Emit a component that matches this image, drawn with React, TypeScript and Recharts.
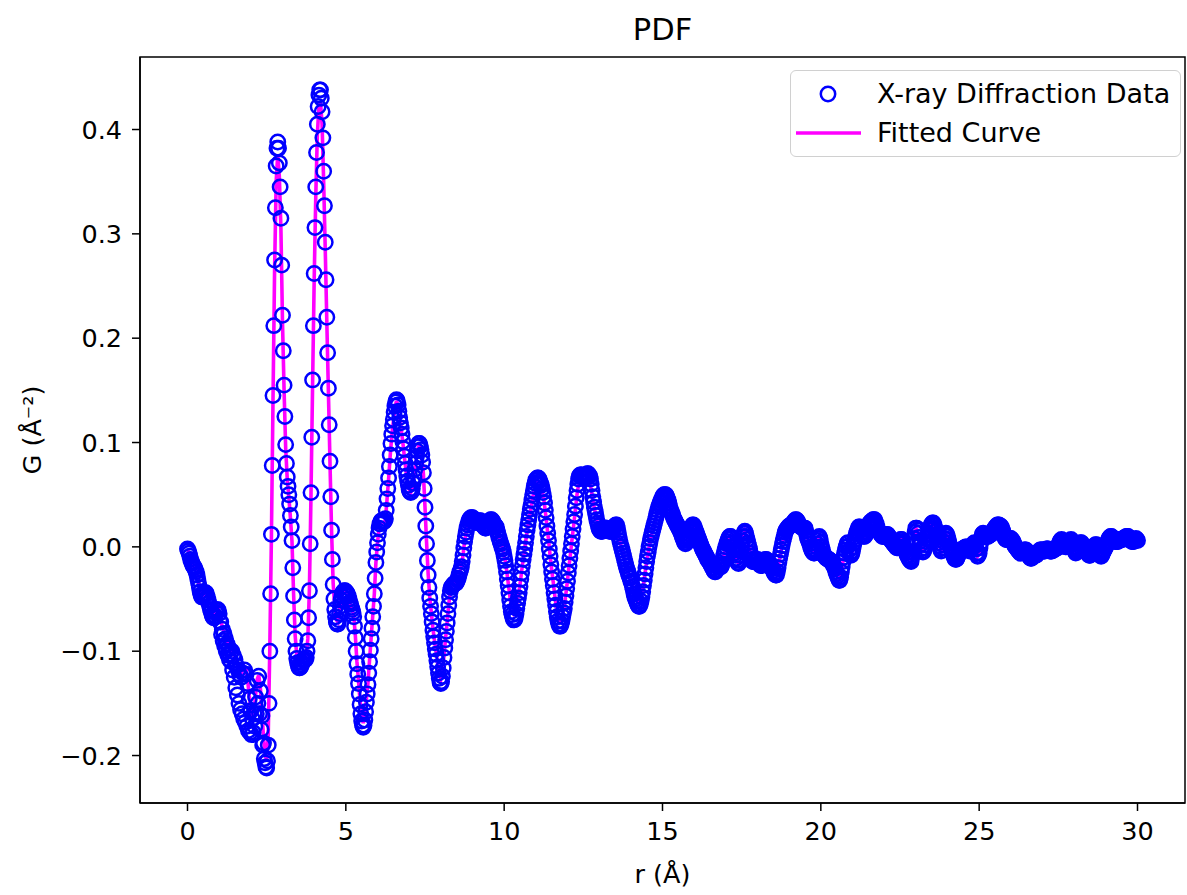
import React from 'react';
import { ComposedChart, Scatter, Line, XAxis, YAxis, ReferenceArea, Legend } from 'recharts';

// sampling grids of r (Å)
const R_START = 0;
const OBS_STEP = 0.025;
const FIT_STEP = 0.05;

// Measured G(r) (Å^-2), one row per 1 Å (40 samples, step 0.025 Å)
const OBS_G = [
  -0.002,-0.004,-0.006,-0.009,-0.012,-0.014,-0.016,-0.018,-0.019,-0.020,-0.022,-0.024,-0.027,-0.031,-0.035,-0.039,-0.043,-0.046,-0.048,-0.048,-0.047,-0.045,-0.044,-0.044,-0.045,-0.048,-0.051,-0.054,-0.057,-0.060,-0.062,-0.065,-0.067,-0.068,-0.068,-0.066,-0.063,-0.061,-0.060,-0.061,
  -0.064,-0.072,-0.072,-0.084,-0.079,-0.090,-0.083,-0.095,-0.088,-0.100,-0.093,-0.104,-0.097,-0.108,-0.103,-0.110,-0.100,-0.118,-0.104,-0.125,-0.108,-0.135,-0.114,-0.142,-0.118,-0.150,-0.123,-0.156,-0.125,-0.160,-0.121,-0.165,-0.118,-0.168,-0.122,-0.172,-0.131,-0.176,-0.146,-0.178,
  -0.157,-0.180,-0.165,-0.178,-0.160,-0.172,-0.144,-0.160,-0.128,-0.150,-0.124,-0.160,-0.138,-0.175,-0.162,-0.190,-0.188,-0.203,-0.207,-0.211,-0.212,-0.205,-0.190,-0.150,-0.100,-0.045,0.012,0.078,0.145,0.212,0.275,0.325,0.365,0.382,0.388,0.382,0.368,0.345,0.315,0.270,
  0.222,0.188,0.155,0.125,0.098,0.080,0.067,0.058,0.050,0.041,0.030,0.019,0.006,-0.020,-0.047,-0.070,-0.088,-0.100,-0.107,-0.111,-0.114,-0.116,-0.116,-0.115,-0.113,-0.111,-0.109,-0.108,-0.108,-0.108,-0.106,-0.100,-0.090,-0.068,-0.042,0.003,0.052,0.105,0.160,0.212,
  0.262,0.306,0.345,0.378,0.405,0.422,0.433,0.438,0.438,0.430,0.417,0.392,0.360,0.327,0.292,0.256,0.220,0.186,0.152,0.117,0.082,0.048,0.016,-0.012,-0.036,-0.050,-0.060,-0.067,-0.072,-0.074,-0.074,-0.070,-0.064,-0.057,-0.051,-0.047,-0.044,-0.043,-0.042,-0.042,
  -0.043,-0.044,-0.045,-0.047,-0.050,-0.053,-0.055,-0.058,-0.060,-0.063,-0.067,-0.076,-0.087,-0.100,-0.112,-0.122,-0.131,-0.141,-0.151,-0.160,-0.167,-0.171,-0.173,-0.171,-0.166,-0.158,-0.149,-0.141,-0.132,-0.121,-0.110,-0.099,-0.088,-0.078,-0.067,-0.057,-0.045,-0.030,-0.015,-0.005,
  0.004,0.012,0.018,0.022,0.024,0.025,0.024,0.024,0.024,0.025,0.027,0.035,0.046,0.056,0.066,0.077,0.088,0.099,0.108,0.116,0.122,0.129,0.135,0.139,0.141,0.140,0.136,0.130,0.124,0.119,0.114,0.108,0.101,0.094,0.087,0.080,0.074,0.068,0.063,0.059,
  0.055,0.053,0.052,0.053,0.056,0.061,0.067,0.074,0.080,0.086,0.092,0.096,0.099,0.099,0.097,0.093,0.088,0.081,0.071,0.056,0.038,0.020,0.003,-0.013,-0.027,-0.039,-0.049,-0.057,-0.064,-0.072,-0.080,-0.086,-0.092,-0.098,-0.103,-0.109,-0.115,-0.121,-0.126,-0.130,
  -0.131,-0.129,-0.124,-0.116,-0.106,-0.097,-0.089,-0.081,-0.073,-0.064,-0.056,-0.048,-0.042,-0.039,-0.038,-0.037,-0.036,-0.035,-0.035,-0.035,-0.034,-0.032,-0.030,-0.027,-0.024,-0.022,-0.019,-0.014,-0.008,-0.001,0.005,0.010,0.014,0.018,0.021,0.024,0.026,0.027,0.028,0.028,
  0.028,0.027,0.026,0.025,0.025,0.024,0.023,0.023,0.024,0.025,0.025,0.024,0.023,0.021,0.020,0.019,0.018,0.018,0.019,0.020,0.022,0.024,0.025,0.026,0.026,0.025,0.024,0.022,0.021,0.020,0.019,0.016,0.013,0.010,0.008,0.005,0.003,0.000,-0.002,-0.005,
  -0.009,-0.013,-0.018,-0.024,-0.031,-0.037,-0.044,-0.051,-0.057,-0.062,-0.065,-0.068,-0.070,-0.070,-0.068,-0.064,-0.059,-0.054,-0.049,-0.044,-0.038,-0.031,-0.025,-0.018,-0.012,-0.007,-0.002,0.004,0.010,0.016,0.021,0.026,0.031,0.036,0.040,0.045,0.050,0.054,0.058,0.061,
  0.064,0.065,0.066,0.066,0.065,0.063,0.061,0.059,0.056,0.052,0.048,0.042,0.035,0.028,0.020,0.013,0.006,-0.002,-0.009,-0.017,-0.024,-0.031,-0.037,-0.044,-0.050,-0.056,-0.062,-0.067,-0.071,-0.074,-0.076,-0.076,-0.074,-0.071,-0.067,-0.063,-0.059,-0.053,-0.047,-0.040,
  -0.033,-0.025,-0.018,-0.011,-0.004,0.003,0.010,0.017,0.024,0.031,0.039,0.047,0.054,0.060,0.065,0.068,0.069,0.069,0.069,0.068,0.068,0.068,0.068,0.068,0.069,0.070,0.070,0.069,0.068,0.065,0.060,0.054,0.048,0.043,0.038,0.034,0.030,0.026,0.023,0.020,
  0.017,0.016,0.015,0.015,0.015,0.016,0.017,0.018,0.018,0.018,0.018,0.017,0.016,0.015,0.015,0.015,0.016,0.017,0.018,0.019,0.020,0.021,0.021,0.018,0.014,0.010,0.006,0.003,0.000,-0.003,-0.006,-0.009,-0.012,-0.015,-0.018,-0.021,-0.023,-0.026,-0.028,-0.030,
  -0.033,-0.035,-0.038,-0.041,-0.045,-0.048,-0.050,-0.052,-0.054,-0.056,-0.057,-0.057,-0.055,-0.052,-0.048,-0.043,-0.037,-0.032,-0.026,-0.020,-0.014,-0.009,-0.005,0.000,0.004,0.008,0.011,0.014,0.017,0.020,0.023,0.026,0.029,0.032,0.035,0.038,0.040,0.042,0.044,0.046,
  0.048,0.049,0.050,0.050,0.050,0.049,0.047,0.045,0.042,0.039,0.036,0.034,0.032,0.030,0.028,0.026,0.025,0.023,0.022,0.020,0.019,0.017,0.016,0.014,0.012,0.010,0.008,0.006,0.004,0.003,0.004,0.006,0.008,0.010,0.012,0.015,0.017,0.019,0.021,0.021,
  0.019,0.017,0.015,0.013,0.011,0.009,0.007,0.005,0.003,0.001,-0.001,-0.003,-0.004,-0.006,-0.007,-0.009,-0.010,-0.012,-0.013,-0.014,-0.015,-0.017,-0.018,-0.020,-0.021,-0.023,-0.024,-0.024,-0.022,-0.019,-0.017,-0.017,-0.018,-0.019,-0.019,-0.017,-0.013,-0.009,-0.006,-0.003,
  0.000,0.003,0.005,0.007,0.009,0.010,0.010,0.008,0.004,0.000,-0.003,-0.006,-0.008,-0.011,-0.013,-0.015,-0.016,-0.013,-0.008,-0.004,0.001,0.006,0.010,0.013,0.015,0.013,0.010,0.007,0.004,0.001,-0.002,-0.006,-0.009,-0.012,-0.014,-0.014,-0.014,-0.014,-0.013,-0.012,
  -0.012,-0.013,-0.015,-0.017,-0.018,-0.018,-0.017,-0.015,-0.014,-0.013,-0.012,-0.012,-0.013,-0.014,-0.016,-0.018,-0.019,-0.019,-0.020,-0.021,-0.023,-0.025,-0.026,-0.027,-0.027,-0.024,-0.020,-0.015,-0.011,-0.007,-0.003,0.001,0.005,0.008,0.011,0.014,0.016,0.017,0.018,0.019,
  0.020,0.020,0.021,0.021,0.022,0.023,0.024,0.025,0.026,0.026,0.025,0.024,0.022,0.021,0.020,0.019,0.019,0.018,0.018,0.018,0.018,0.015,0.012,0.009,0.007,0.005,0.003,0.000,-0.002,-0.004,-0.005,-0.006,-0.006,-0.003,0.000,0.003,0.006,0.008,0.010,0.008,
  0.004,0.000,-0.003,-0.006,-0.008,-0.009,-0.010,-0.011,-0.011,-0.012,-0.012,-0.013,-0.013,-0.014,-0.015,-0.016,-0.018,-0.019,-0.021,-0.024,-0.026,-0.028,-0.030,-0.032,-0.032,-0.029,-0.024,-0.019,-0.014,-0.010,-0.006,-0.003,0.000,0.003,0.004,0.001,-0.003,-0.006,-0.008,-0.007,
  -0.004,0.000,0.004,0.007,0.010,0.013,0.015,0.017,0.019,0.019,0.018,0.016,0.014,0.012,0.010,0.010,0.011,0.014,0.017,0.019,0.021,0.022,0.023,0.024,0.024,0.025,0.026,0.026,0.026,0.024,0.022,0.019,0.016,0.015,0.014,0.013,0.012,0.011,0.010,0.010,
  0.010,0.010,0.011,0.012,0.012,0.011,0.010,0.008,0.007,0.006,0.005,0.004,0.003,0.002,0.001,0.000,-0.001,-0.001,0.000,0.003,0.005,0.007,0.007,0.005,0.003,0.000,-0.002,-0.004,-0.006,-0.008,-0.009,-0.011,-0.012,-0.013,-0.014,-0.010,-0.005,0.001,0.008,0.014,
  0.018,0.018,0.016,0.013,0.009,0.005,0.002,-0.002,-0.004,-0.005,-0.004,-0.001,0.002,0.005,0.008,0.011,0.013,0.016,0.018,0.020,0.022,0.023,0.023,0.021,0.018,0.015,0.012,0.010,0.007,0.004,0.001,-0.002,-0.004,-0.001,0.002,0.005,0.008,0.011,0.013,0.012,
  0.010,0.007,0.004,0.001,-0.001,-0.003,-0.005,-0.007,-0.009,-0.011,-0.012,-0.012,-0.011,-0.009,-0.007,-0.005,-0.004,-0.003,-0.003,-0.002,-0.002,-0.001,-0.001,0.000,0.000,-0.001,-0.002,-0.003,-0.004,-0.003,-0.001,0.001,0.002,0.003,0.004,0.001,-0.002,-0.006,-0.009,-0.008,
  -0.006,-0.001,0.004,0.009,0.012,0.013,0.012,0.011,0.011,0.010,0.010,0.010,0.011,0.011,0.012,0.012,0.013,0.014,0.015,0.017,0.018,0.019,0.020,0.021,0.021,0.021,0.020,0.020,0.019,0.017,0.015,0.012,0.010,0.008,0.007,0.007,0.007,0.007,0.008,0.008,
  0.008,0.007,0.006,0.005,0.003,0.001,0.000,-0.001,-0.002,-0.003,-0.004,-0.005,-0.006,-0.006,-0.005,-0.004,-0.004,-0.003,-0.003,-0.003,-0.004,-0.005,-0.007,-0.009,-0.010,-0.011,-0.011,-0.010,-0.009,-0.008,-0.008,-0.008,-0.008,-0.007,-0.006,-0.005,-0.004,-0.003,-0.003,-0.003,
  -0.003,-0.004,-0.004,-0.004,-0.003,-0.002,-0.002,-0.002,-0.003,-0.004,-0.004,-0.004,-0.004,-0.003,-0.003,-0.002,-0.002,-0.001,-0.001,-0.001,0.000,0.003,0.005,0.006,0.007,0.006,0.004,0.002,0.001,0.000,0.000,0.001,0.002,0.003,0.005,0.006,0.007,0.005,0.003,0.000,
  -0.002,-0.004,-0.006,-0.005,-0.003,-0.001,0.001,0.003,0.004,0.004,0.003,0.001,0.000,-0.002,-0.003,-0.004,-0.005,-0.006,-0.007,-0.008,-0.008,-0.007,-0.006,-0.004,-0.002,0.000,0.001,0.002,0.002,0.000,-0.002,-0.004,-0.006,-0.008,-0.009,-0.008,-0.006,-0.004,-0.003,-0.001,
  0.000,0.002,0.004,0.006,0.008,0.009,0.010,0.010,0.009,0.008,0.007,0.006,0.005,0.005,0.005,0.005,0.006,0.006,0.007,0.007,0.007,0.007,0.008,0.008,0.009,0.009,0.010,0.010,0.010,0.009,0.008,0.007,0.006,0.005,0.005,0.005,0.006,0.007,0.008,0.007,
  0.006,
];

// Fitted G(r) (Å^-2), one row per 1 Å (20 samples, step 0.05 Å)
const FIT_G = [
  -0.002,-0.006,-0.012,-0.016,-0.019,-0.021,-0.026,-0.034,-0.042,-0.047,-0.046,-0.043,-0.044,-0.050,-0.055,-0.060,-0.065,-0.066,-0.061,-0.058,
  -0.062,-0.070,-0.077,-0.081,-0.086,-0.091,-0.095,-0.100,-0.097,-0.098,-0.105,-0.110,-0.114,-0.119,-0.121,-0.118,-0.115,-0.117,-0.128,-0.143,
  -0.155,-0.162,-0.158,-0.142,-0.127,-0.123,-0.135,-0.158,-0.182,-0.200,-0.204,-0.180,-0.095,0.010,0.140,0.265,0.350,0.376,0.355,0.305,
  0.215,0.150,0.095,0.065,0.048,0.028,0.005,-0.045,-0.085,-0.104,-0.110,-0.112,-0.110,-0.107,-0.107,-0.104,-0.088,-0.040,0.050,0.155,
  0.255,0.335,0.395,0.422,0.426,0.405,0.350,0.285,0.215,0.148,0.080,0.015,-0.035,-0.058,-0.070,-0.072,-0.062,-0.050,-0.044,-0.042,
  -0.043,-0.045,-0.050,-0.055,-0.060,-0.066,-0.085,-0.110,-0.128,-0.148,-0.163,-0.169,-0.162,-0.146,-0.130,-0.108,-0.087,-0.066,-0.045,-0.015,
  0.004,0.018,0.023,0.023,0.023,0.026,0.045,0.065,0.087,0.106,0.120,0.133,0.140,0.134,0.123,0.113,0.100,0.086,0.073,0.062,
  0.055,0.052,0.056,0.066,0.078,0.090,0.097,0.095,0.086,0.070,0.038,0.004,-0.026,-0.048,-0.063,-0.078,-0.090,-0.100,-0.112,-0.122,
  -0.127,-0.121,-0.104,-0.088,-0.072,-0.055,-0.042,-0.038,-0.036,-0.035,-0.034,-0.030,-0.024,-0.019,-0.008,0.005,0.014,0.021,0.026,0.028,
  0.028,0.026,0.025,0.023,0.024,0.025,0.023,0.020,0.018,0.019,0.022,0.025,0.026,0.024,0.021,0.019,0.013,0.008,0.003,-0.002,
  -0.008,-0.016,-0.028,-0.040,-0.052,-0.060,-0.064,-0.062,-0.054,-0.046,-0.036,-0.024,-0.012,-0.002,0.010,0.020,0.029,0.038,0.047,0.055,
  0.061,0.063,0.062,0.058,0.054,0.046,0.034,0.020,0.007,-0.008,-0.022,-0.034,-0.047,-0.058,-0.067,-0.072,-0.070,-0.064,-0.057,-0.045,
  -0.032,-0.018,-0.005,0.009,0.022,0.036,0.050,0.060,0.063,0.062,0.061,0.061,0.062,0.063,0.062,0.055,0.045,0.037,0.029,0.022,
  0.017,0.015,0.015,0.017,0.018,0.018,0.016,0.015,0.016,0.018,0.020,0.021,0.014,0.006,0.000,-0.006,-0.012,-0.018,-0.023,-0.028,
  -0.032,-0.037,-0.043,-0.048,-0.051,-0.053,-0.052,-0.046,-0.036,-0.025,-0.014,-0.005,0.004,0.011,0.017,0.022,0.028,0.033,0.038,0.042,
  0.046,0.048,0.048,0.045,0.041,0.036,0.032,0.028,0.025,0.022,0.019,0.016,0.012,0.008,0.004,0.004,0.008,0.012,0.017,0.021,
  0.019,0.015,0.011,0.007,0.003,-0.001,-0.004,-0.007,-0.010,-0.013,-0.015,-0.018,-0.021,-0.024,-0.022,-0.017,-0.018,-0.019,-0.013,-0.006,
  0.000,0.005,0.009,0.010,0.004,-0.003,-0.008,-0.013,-0.016,-0.008,0.001,0.010,0.015,0.010,0.004,-0.002,-0.009,-0.014,-0.014,-0.013,
  -0.012,-0.015,-0.018,-0.017,-0.014,-0.012,-0.013,-0.016,-0.019,-0.020,-0.023,-0.026,-0.027,-0.020,-0.011,-0.003,0.005,0.011,0.016,0.018,
  0.020,0.021,0.022,0.024,0.026,0.025,0.022,0.020,0.019,0.018,0.018,0.012,0.007,0.003,-0.002,-0.005,-0.006,0.000,0.006,0.010,
  0.004,-0.003,-0.008,-0.010,-0.011,-0.012,-0.013,-0.015,-0.018,-0.021,-0.026,-0.030,-0.032,-0.024,-0.014,-0.006,0.000,0.004,-0.003,-0.008,
  -0.004,0.004,0.010,0.015,0.019,0.018,0.014,0.010,0.011,0.017,0.021,0.023,0.024,0.026,0.026,0.022,0.016,0.014,0.012,0.010,
  0.010,0.011,0.012,0.010,0.007,0.005,0.003,0.001,-0.001,0.000,0.005,0.007,0.003,-0.002,-0.006,-0.009,-0.012,-0.014,-0.005,0.008,
  0.018,0.016,0.009,0.002,-0.004,-0.004,0.002,0.008,0.013,0.018,0.022,0.023,0.018,0.012,0.007,0.001,-0.004,0.002,0.008,0.013,
  0.010,0.004,-0.001,-0.005,-0.009,-0.012,-0.011,-0.007,-0.004,-0.003,-0.002,-0.001,0.000,-0.002,-0.004,-0.001,0.002,0.004,-0.002,-0.009,
  -0.006,0.004,0.012,0.012,0.011,0.010,0.011,0.012,0.013,0.015,0.018,0.020,0.021,0.020,0.019,0.015,0.010,0.007,0.007,0.008,
  0.008,0.006,0.003,0.000,-0.002,-0.004,-0.006,-0.005,-0.004,-0.003,-0.004,-0.007,-0.010,-0.011,-0.009,-0.008,-0.008,-0.006,-0.004,-0.003,
  -0.003,-0.004,-0.003,-0.002,-0.003,-0.004,-0.004,-0.003,-0.002,-0.001,0.000,0.005,0.007,0.004,0.001,0.000,0.002,0.005,0.007,0.003,
  -0.002,-0.006,-0.003,0.001,0.004,0.003,0.000,-0.003,-0.005,-0.007,-0.008,-0.006,-0.002,0.001,0.002,-0.002,-0.006,-0.009,-0.006,-0.003,
  0.000,0.004,0.008,0.010,0.009,0.007,0.005,0.005,0.006,0.007,0.007,0.008,0.009,0.010,0.010,0.008,0.006,0.005,0.006,0.008,
  0.006,
];

const X_TICKS = [0, 5, 10, 15, 20, 25, 30];
const Y_TICKS = [-0.2, -0.1, 0.0, 0.1, 0.2, 0.3, 0.4];
const X_DOMAIN: [number, number] = [-1.5, 31.5];
const Y_DOMAIN: [number, number] = [-0.2455, 0.4695];

const TITLE = 'PDF';
const X_LABEL = 'r (Å)';
const Y_LABEL = 'G (Å⁻²)';
const OBS_NAME = 'X-ray Diffraction Data';
const FIT_NAME = 'Fitted Curve';

const OBS_COLOR = '#0000ff';
const FIT_COLOR = '#ff00ff';
const FONT = '"DejaVu Sans", sans-serif';
const FS = 25.5;
const LEGEND_FS = 27;
const MARKER_R = 7.2;
const MARKER_W = 2.5;

const FIT_EVERY = Math.round(FIT_STEP / OBS_STEP);
const data = OBS_G.map((g, i) => ({
  r: Number((R_START + i * OBS_STEP).toFixed(3)),
  obs: g,
  fit: i % FIT_EVERY === 0 ? FIT_G[i / FIT_EVERY] : undefined,
}));

const fmtY = (v: number) => v.toFixed(1).replace('-', '\u2212');

const OpenCircle = (props: any) => {
  const { cx, cy } = props;
  if (cx == null || cy == null) return null;
  return <circle cx={cx} cy={cy} r={MARKER_R} fill="none" stroke={OBS_COLOR} strokeWidth={MARKER_W} />;
};

const LegendBox = () => (
  <div
    style={{
      width: 391,
      height: 87,
      boxSizing: 'border-box',
      border: '1.5px solid #d0d0d0',
      borderRadius: 6,
      background: 'rgba(255,255,255,0.85)',
      position: 'relative',
      fontFamily: FONT,
      fontSize: LEGEND_FS,
      color: '#000',
    }}
  >
    <svg width={80} height={87} style={{ position: 'absolute', left: 0, top: 0 }}>
      <circle cx={37} cy={23} r={MARKER_R} fill="none" stroke={OBS_COLOR} strokeWidth={MARKER_W} />
      <line x1={5} y1={62} x2={70} y2={62} stroke={FIT_COLOR} strokeWidth={3.6} />
    </svg>
    <div style={{ position: 'absolute', left: 86, top: 23 - 16, lineHeight: '32px', whiteSpace: 'nowrap' }}>{OBS_NAME}</div>
    <div style={{ position: 'absolute', left: 86, top: 62 - 16, lineHeight: '32px', whiteSpace: 'nowrap' }}>{FIT_NAME}</div>
  </div>
);

export default function App() {
  return (
    <div style={{ position: 'absolute', left: 0, top: 0, width: 1187, height: 895, background: '#fff', fontFamily: FONT }}>
      <div
        style={{
          position: 'absolute',
          left: 140,
          width: 1045,
          top: 12,
          lineHeight: '36px',
          textAlign: 'center',
          fontSize: 30.5,
          color: '#000',
        }}
      >
        {TITLE}
      </div>
      <ComposedChart
        width={1187}
        height={895}
        data={data}
        margin={{ top: 57, right: 2, bottom: 42, left: 60 }}
        style={{ position: 'absolute', left: 0, top: 0 }}
      >
        <XAxis
          type="number"
          dataKey="r"
          domain={X_DOMAIN}
          ticks={X_TICKS}
          allowDataOverflow
          height={50}
          tickSize={8}
          tickMargin={11}
          tick={{ fill: '#000', fontSize: FS }}
          tickLine={{ stroke: '#000', strokeWidth: 1.5 }}
          axisLine={{ stroke: '#000', strokeWidth: 1.5 }}
          label={{ value: X_LABEL, position: 'bottom', offset: 12, fill: '#000', fontSize: FS }}
        />
        <YAxis
          type="number"
          domain={Y_DOMAIN}
          ticks={Y_TICKS}
          allowDataOverflow
          width={80}
          tickSize={8}
          tickMargin={10}
          tickFormatter={fmtY}
          tick={{ fill: '#000', fontSize: FS }}
          tickLine={{ stroke: '#000', strokeWidth: 1.5 }}
          axisLine={{ stroke: '#000', strokeWidth: 1.5 }}
          label={{
            value: Y_LABEL,
            angle: -90,
            position: 'insideLeft',
            offset: -28,
            fill: '#000',
            fontSize: FS,
            style: { textAnchor: 'middle' },
          }}
        />
        <ReferenceArea
          x1={X_DOMAIN[0]}
          x2={X_DOMAIN[1]}
          y1={Y_DOMAIN[0]}
          y2={Y_DOMAIN[1]}
          fill="none"
          stroke="#000"
          strokeWidth={1.5}
          ifOverflow="visible"
        />
        <Scatter name={OBS_NAME} dataKey="obs" shape={OpenCircle} isAnimationActive={false} />
        <Line
          name={FIT_NAME}
          dataKey="fit"
          type="linear"
          stroke={FIT_COLOR}
          strokeWidth={3.6}
          dot={false}
          activeDot={false}
          connectNulls
          isAnimationActive={false}
        />
        <Legend
          layout="vertical"
          align="center"
          verticalAlign="middle"
          content={<LegendBox />}
          wrapperStyle={{ position: 'absolute', left: 790, top: 70, width: 391, height: 87 }}
        />
      </ComposedChart>
    </div>
  );
}
